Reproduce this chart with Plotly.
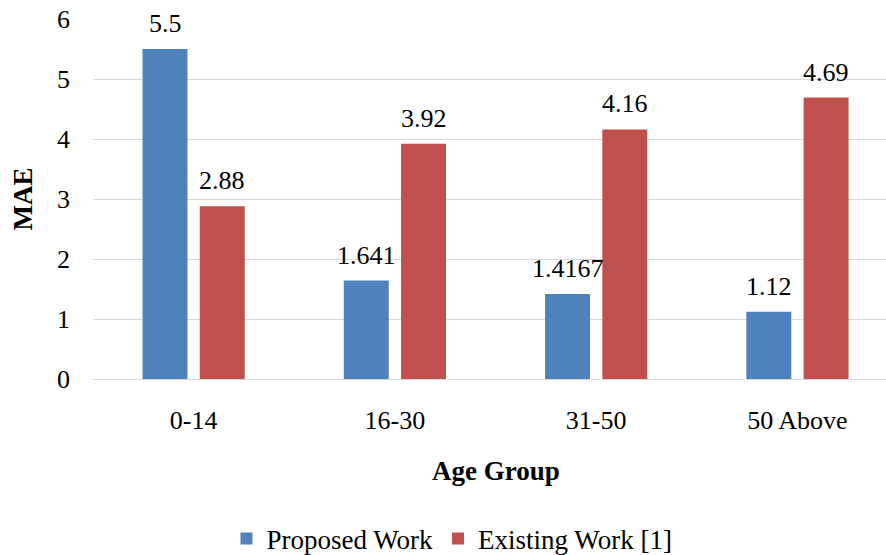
import plotly.graph_objects as go

categories = ["0-14", "16-30", "31-50", "50 Above"]
proposed = [5.5, 1.641, 1.4167, 1.12]
proposed_labels = ["5.5", "1.641", "1.4167", "1.12"]
existing = [2.88, 3.92, 4.16, 4.69]
existing_labels = ["2.88", "3.92", "4.16", "4.69"]
y_ticks = [0, 1, 2, 3, 4, 5, 6]

BLUE = "#4F81BD"
RED = "#C0504D"
FONT = "Liberation Serif"

fig = go.Figure()
fig.add_trace(go.Bar(name="Proposed Work", x=categories, y=proposed, marker_color=BLUE,
                     marker_line_width=0))
fig.add_trace(go.Bar(name="Existing Work [1]", x=categories, y=existing, marker_color=RED,
                     marker_line_width=0))

# data labels above bars
for vals, labs, shift in ((proposed, proposed_labels, -28.6), (existing, existing_labels, 28.6)):
    for c, v, t in zip(categories, vals, labs):
        fig.add_annotation(x=c, y=v, xref="x", yref="y", text=t, showarrow=False,
                           xshift=shift, yshift=9, yanchor="bottom",
                           font=dict(family=FONT, size=26, color="black"))

fig.add_annotation(text="<b>MAE</b>", xref="paper", yref="paper", x=(22.5 - 93) / 793,
                   y=(379 - 199) / 360, showarrow=False, textangle=-90,
                   xanchor="center", yanchor="middle",
                   font=dict(family=FONT, size=27, color="black"))
fig.add_annotation(text="<b>Age Group</b>", xref="paper", yref="paper", x=(495.5 - 93) / 793,
                   y=-(471 - 379) / 360, showarrow=False,
                   xanchor="center", yanchor="middle",
                   font=dict(family=FONT, size=27, color="black"))

fig.update_layout(
    width=886, height=555,
    margin=dict(l=93, r=0, t=19, b=176, autoexpand=False),
    paper_bgcolor="white", plot_bgcolor="white",
    barmode="group", bargap=0.431, bargroupgap=0.215,
    font=dict(family=FONT, size=26, color="black"),
    showlegend=True,
    legend=dict(orientation="h", xanchor="center", x=(452 - 93) / 793,
                yanchor="middle", y=-(539 - 379) / 360,
                font=dict(family=FONT, size=27, color="black"),
                itemwidth=30, tracegroupgap=0),
    xaxis=dict(range=[-0.5, 3.44], showgrid=False, showline=False, zeroline=False,
               ticks="", ticklabelstandoff=23, tickfont=dict(family=FONT, size=26)),
    yaxis=dict(range=[0, 6], tickvals=y_ticks, showgrid=True, gridcolor="#D9D9D9",
               gridwidth=1, zeroline=True, zerolinecolor="#D9D9D9", zerolinewidth=1,
               showline=False, ticks="", ticklabelstandoff=22,
               tickfont=dict(family=FONT, size=26)),
)

fig.write_html("out.html")
